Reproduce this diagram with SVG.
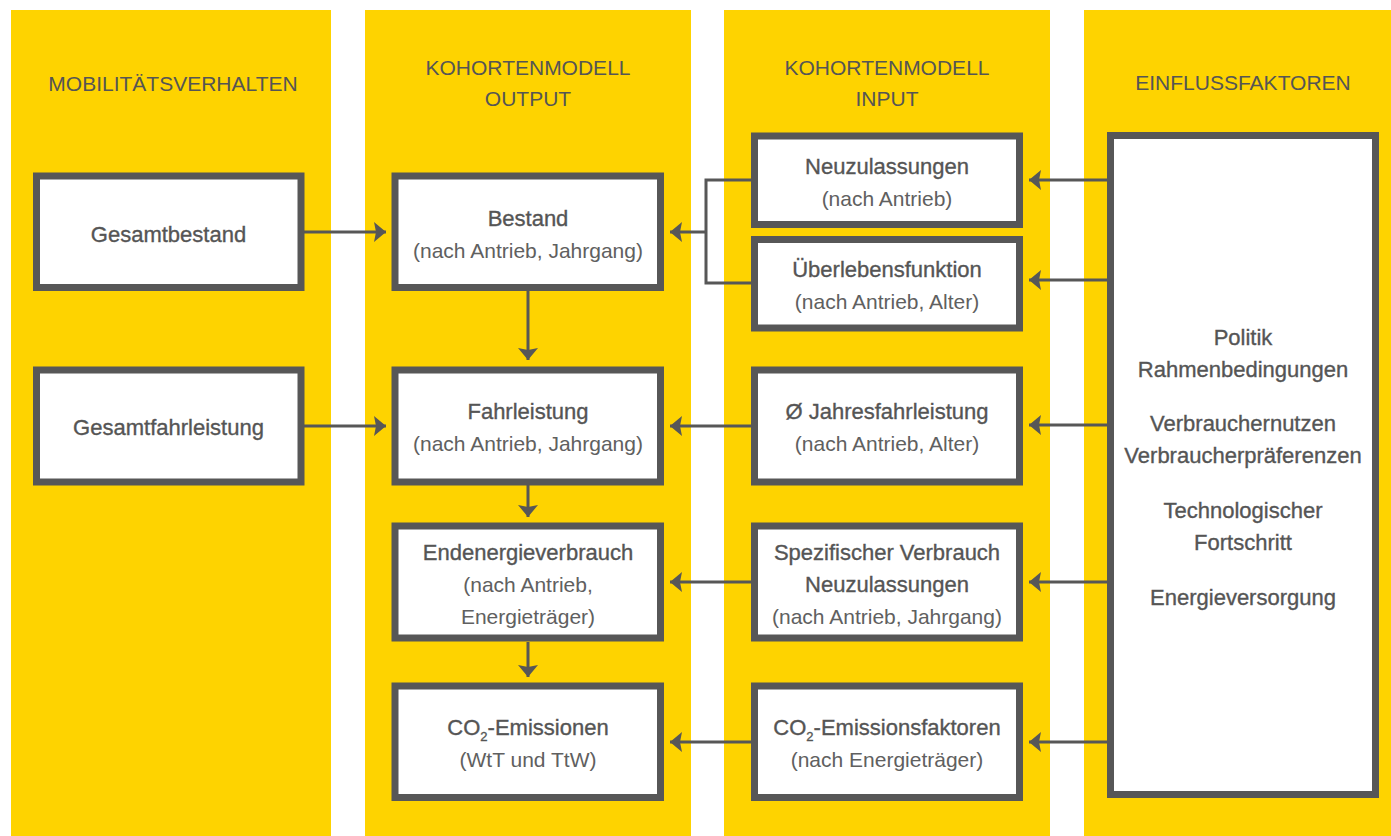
<svg xmlns="http://www.w3.org/2000/svg" width="1391" height="836" viewBox="0 0 1391 836">
  <style>
    .col { fill: #FED300; }
    .box { fill: #FFFFFF; stroke: #575757; stroke-width: 7; }
    .hd { font-family: "Liberation Sans", Arial, sans-serif; font-size: 21px; fill: #555555; text-anchor: middle; }
    .t { font-family: "Liberation Sans", Arial, sans-serif; font-size: 22px; fill: #555555; stroke: #555555; stroke-width: 0.35; text-anchor: middle; }
    .s { font-family: "Liberation Sans", Arial, sans-serif; font-size: 21px; fill: #606060; text-anchor: middle; }
    .sub { font-size: 13px; }
    .ln { stroke: #575757; stroke-width: 3; fill: none; }
    .ar { stroke: #575757; stroke-width: 3; fill: none; marker-end: url(#arrow); }
  </style>
  <defs>
    <marker id="arrow" viewBox="0 0 12 20" refX="12" refY="10" markerWidth="12" markerHeight="20" markerUnits="userSpaceOnUse" orient="auto">
      <path d="M0,0 L12,10 L0,20 L2,10 Z" fill="#575757"/>
    </marker>
  </defs>

  <rect width="1391" height="836" fill="#FFFFFF"/>

  <g id="columns">
    <rect class="col" x="11" y="10" width="320" height="826"/>
    <rect class="col" x="365" y="10" width="326" height="826"/>
    <rect class="col" x="724" y="10" width="326" height="826"/>
    <rect class="col" x="1084" y="10" width="307" height="826"/>
  </g>

  <g id="headers">
    <text class="hd" x="173" y="91">MOBILITÄTSVERHALTEN</text>
    <text class="hd" x="528" y="75">KOHORTENMODELL</text>
    <text class="hd" x="528" y="106">OUTPUT</text>
    <text class="hd" x="887" y="75">KOHORTENMODELL</text>
    <text class="hd" x="887" y="106">INPUT</text>
    <text class="hd" x="1243" y="90">EINFLUSSFAKTOREN</text>
  </g>

  <g id="connectors">
    <line class="ar" x1="304" y1="232" x2="386" y2="232"/>
    <line class="ar" x1="304" y1="426" x2="386" y2="426"/>
    <polyline class="ln" points="751,180 706,180 706,283 751,283"/>
    <line class="ar" x1="706" y1="232" x2="670" y2="232"/>
    <line class="ar" x1="751" y1="426" x2="670" y2="426"/>
    <line class="ar" x1="751" y1="582" x2="670" y2="582"/>
    <line class="ar" x1="751" y1="742" x2="670" y2="742"/>
    <line class="ar" x1="1107" y1="180" x2="1029" y2="180"/>
    <line class="ar" x1="1107" y1="280" x2="1029" y2="280"/>
    <line class="ar" x1="1107" y1="425" x2="1029" y2="425"/>
    <line class="ar" x1="1107" y1="582" x2="1029" y2="582"/>
    <line class="ar" x1="1107" y1="742" x2="1029" y2="742"/>
    <line class="ar" x1="528" y1="291" x2="528" y2="360"/>
    <line class="ar" x1="528" y1="485" x2="528" y2="517"/>
    <line class="ar" x1="528" y1="642" x2="528" y2="677"/>
  </g>

  <g id="gesamtbestand">
    <rect class="box" x="36.5" y="176" width="264.5" height="111.5"/>
    <text class="t" x="168.5" y="242">Gesamtbestand</text>
  </g>
  <g id="gesamtfahrleistung">
    <rect class="box" x="36.5" y="370" width="264.5" height="112"/>
    <text class="t" x="168.5" y="435">Gesamtfahrleistung</text>
  </g>

  <g id="bestand">
    <rect class="box" x="395" y="176" width="265.5" height="111.5"/>
    <text class="t" x="528" y="226">Bestand</text>
    <text class="s" x="528" y="258">(nach Antrieb, Jahrgang)</text>
  </g>
  <g id="fahrleistung">
    <rect class="box" x="395" y="370" width="265.5" height="112"/>
    <text class="t" x="528" y="419">Fahrleistung</text>
    <text class="s" x="528" y="451">(nach Antrieb, Jahrgang)</text>
  </g>
  <g id="endenergieverbrauch">
    <rect class="box" x="395" y="526" width="265.5" height="112"/>
    <text class="t" x="528" y="560">Endenergieverbrauch</text>
    <text class="s" x="528" y="592">(nach Antrieb,</text>
    <text class="s" x="528" y="624">Energieträger)</text>
  </g>
  <g id="co2-emissionen">
    <rect class="box" x="395" y="686" width="265.5" height="111.5"/>
    <text class="t" x="528" y="735">CO<tspan class="sub" dy="6">2</tspan><tspan dy="-6">-Emissionen</tspan></text>
    <text class="s" x="528" y="767">(WtT und TtW)</text>
  </g>

  <g id="neuzulassungen">
    <rect class="box" x="754.5" y="136" width="265" height="88.5"/>
    <text class="t" x="887" y="174">Neuzulassungen</text>
    <text class="s" x="887" y="206">(nach Antrieb)</text>
  </g>
  <g id="ueberlebensfunktion">
    <rect class="box" x="754.5" y="239.5" width="265" height="88.5"/>
    <text class="t" x="887" y="277">Überlebensfunktion</text>
    <text class="s" x="887" y="309">(nach Antrieb, Alter)</text>
  </g>
  <g id="jahresfahrleistung">
    <rect class="box" x="754.5" y="370" width="265" height="112"/>
    <text class="t" x="887" y="419">Ø Jahresfahrleistung</text>
    <text class="s" x="887" y="451">(nach Antrieb, Alter)</text>
  </g>
  <g id="spezifischer-verbrauch">
    <rect class="box" x="754.5" y="526" width="265" height="112"/>
    <text class="t" x="887" y="560">Spezifischer Verbrauch</text>
    <text class="t" x="887" y="592">Neuzulassungen</text>
    <text class="s" x="887" y="624">(nach Antrieb, Jahrgang)</text>
  </g>
  <g id="co2-emissionsfaktoren">
    <rect class="box" x="754.5" y="686" width="265" height="111.5"/>
    <text class="t" x="887" y="735">CO<tspan class="sub" dy="6">2</tspan><tspan dy="-6">-Emissionsfaktoren</tspan></text>
    <text class="s" x="887" y="767">(nach Energieträger)</text>
  </g>

  <g id="einflussfaktoren">
    <rect class="box" x="1110.5" y="135.5" width="265" height="659"/>
    <text class="t" x="1243" y="345">Politik</text>
    <text class="t" x="1243" y="377">Rahmenbedingungen</text>
    <text class="t" x="1243" y="431">Verbrauchernutzen</text>
    <text class="t" x="1243" y="463">Verbraucherpräferenzen</text>
    <text class="t" x="1243" y="518">Technologischer</text>
    <text class="t" x="1243" y="550">Fortschritt</text>
    <text class="t" x="1243" y="605">Energieversorgung</text>
  </g>
</svg>
